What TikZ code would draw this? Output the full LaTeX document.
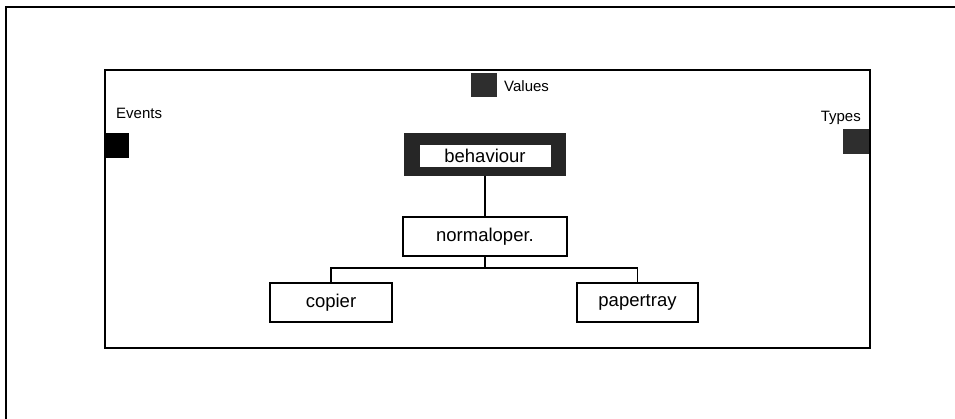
\documentclass[tikz,border=0pt]{standalone}
\usepackage{fontspec}
\setmainfont{Liberation Sans}
\begin{document}
\begin{tikzpicture}[x=1pt,y=-1pt,
  thinline/.style={line width=1.1pt,black},
  box/.style={draw=black,line width=1.1pt,fill=white,inner sep=0pt,font=\fontsize{18.5}{21}\selectfont},
  port/.style={inner sep=0pt,draw=none},
  lbl/.style={inner sep=0pt,font=\fontsize{15}{17}\selectfont}]
\useasboundingbox (0,0) rectangle (955,419);
% outer frame (top and left edge only)
\draw[line width=1.4pt] (955,7) -- (6,7) -- (6,419);
% container
\draw[line width=1.3pt] (105,70) rectangle (870,348);
% ports
\node[port,fill=black!82,minimum width=26pt,minimum height=24pt] (valsq) at (484,85) {};
\node[lbl,anchor=west] (vallbl) at (504,86) {Values};
\node[port,fill=black,minimum width=24pt,minimum height=25pt] (evsq) at (117,145.5) {};
\node[lbl,anchor=west] (evlbl) at (116,113) {Events};
\node[port,fill=black!82,minimum width=26pt,minimum height=25pt] (tysq) at (856,141.5) {};
\node[lbl,anchor=east] (tylbl) at (861,118) {Types};
% behaviour
\node[port,fill=black!85,minimum width=162pt,minimum height=43pt] (beh) at (485,154.5) {};
\node[box,draw=none,minimum width=131pt,minimum height=22pt] (behtxt) at (485,156) {behaviour};
% tree
\node[box,minimum width=164pt,minimum height=39pt] (norm) at (485,236.5) {normaloper.};
\node[box,minimum width=122pt,minimum height=39pt] (copier) at (331,302.5) {copier};
\node[box,minimum width=121pt,minimum height=39pt] (tray) at (637.5,302.5) {papertray};
\coordinate (bus) at (485,268);
\draw[thinline] (beh.south) -- (norm.north);
\draw[thinline] (norm.south) -- (bus);
\draw[thinline] (copier.north) |- (bus) -| (tray.north);
\end{tikzpicture}
\end{document}
